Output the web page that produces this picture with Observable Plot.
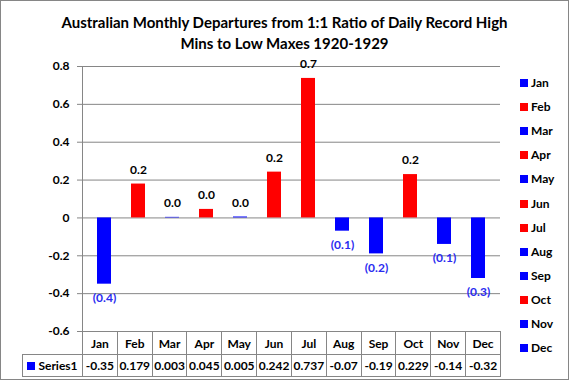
<!DOCTYPE html>
<html><head><meta charset="utf-8">
<script src="https://cdn.jsdelivr.net/npm/d3@7"></script>
<script src="https://cdn.jsdelivr.net/npm/@observablehq/plot@0.6"></script>
<style>
body{margin:0;background:#fff;}
#wrap{position:relative;width:569px;height:380px;overflow:hidden;background:#fff;font-family:Lato,"Liberation Sans",sans-serif;font-weight:bold;color:#000;}
#border{position:absolute;left:0;top:0;width:569px;height:380px;box-sizing:border-box;border:1px solid #868686;pointer-events:none;}
#title{position:absolute;left:0;top:12px;width:569px;text-align:center;font-size:15px;line-height:21px;}
#legend{position:absolute;left:520px;top:0;font-size:12px;}
.li{position:absolute;left:0;white-space:nowrap;height:14px;line-height:14px;}
.sw{display:inline-block;width:8px;height:8px;margin-right:3px;vertical-align:0px;}
#tbl{position:absolute;left:22px;top:331px;border-collapse:collapse;table-layout:fixed;font-size:12px;}
#tbl td{border:1px solid #868686;text-align:center;padding:0;white-space:nowrap;overflow:visible;}
#tbl td.blank{border:none;}
</style></head>
<body>
<div id="wrap">
  <div id="title">Australian Monthly Departures from 1:1 Ratio of Daily Record High<br>Mins to Low Maxes 1920-1929</div>
  <div id="plot" style="position:absolute;left:0;top:0;"></div>
  <div id="legend"></div>
  <table id="tbl"></table>
  <div id="border"></div>
</div>
<script>
const months = ["Jan","Feb","Mar","Apr","May","Jun","Jul","Aug","Sep","Oct","Nov","Dec"];
const values = [-0.35,0.179,0.003,0.045,0.005,0.242,0.737,-0.07,-0.19,0.229,-0.14,-0.32];
const valueLabels = ["-0.35","0.179","0.003","0.045","0.005","0.242","0.737","-0.07","-0.19","0.229","-0.14","-0.32"];
const barColors = ["#0000ff","#ff0000","#0000ff","#ff0000","#0000ff","#ff0000","#ff0000","#0000ff","#0000ff","#ff0000","#0000ff","#0000ff"];
const yTicks = [-0.6,-0.4,-0.2,0,0.2,0.4,0.6,0.8];
const seriesName = "Series1";

const data = months.map((m,i)=>({month:m, value:values[i], color:barColors[i]}));
const fmtTick = d => Math.abs(d) < 1e-9 ? "0" : d.toFixed(1);
const round1 = v => (Math.round(Math.abs(v) * 10 + 1e-9) / 10).toFixed(1);
const fmtLabel = d => d < 0 ? "(" + round1(d) + ")" : round1(d);

const W = 569, H = 380, mL = 82, mR = 69, mT = 66, mB = 49;
const gridColor = "#868686";

const chart = Plot.plot({
  width: W, height: H,
  marginLeft: mL, marginRight: mR, marginTop: mT, marginBottom: mB,
  style: {fontFamily: "Lato, 'Liberation Sans', sans-serif", fontWeight: "bold", fontSize: "12px", color: "#000", background: "transparent"},
  x: {domain: months, paddingInner: 0.6, paddingOuter: 0.3, axis: null},
  y: {domain: [-0.6, 0.8], axis: null},
  marks: [
    Plot.ruleY(yTicks, {stroke: gridColor, strokeWidth: 1}),
    Plot.axisY({ticks: yTicks, tickFormat: fmtTick, tickSize: 5, tickPadding: 8, stroke: gridColor, fill: "#000", fontSize: 12, fontWeight: "bold", label: null}),
    (index, scales, values, dims) => {
      const l = document.createElementNS("http://www.w3.org/2000/svg","line");
      l.setAttribute("x1", dims.marginLeft + 0.5); l.setAttribute("x2", dims.marginLeft + 0.5);
      l.setAttribute("y1", dims.marginTop); l.setAttribute("y2", dims.height - dims.marginBottom);
      l.setAttribute("stroke", gridColor);
      return l;
    },
    Plot.barY(data, {x: "month", y: "value", fill: "color"}),
    Plot.text(data.filter(d=>d.value>=0), {x: "month", y: "value", text: d=>fmtLabel(d.value), dy: -14, fill: "#000", fontSize: 12, fontWeight: "bold"}),
    Plot.text(data.filter(d=>d.value<0), {x: "month", y: "value", text: d=>fmtLabel(d.value), dy: 14, fill: "#2b2bf0", fontSize: 12, fontWeight: "bold"})
  ]
});
document.getElementById("plot").appendChild(chart);

// legend
const leg = document.getElementById("legend");
months.forEach((m,i)=>{
  const d = document.createElement("div");
  d.className = "li";
  d.style.top = (76 + i*24.1) + "px";
  d.innerHTML = `<span class="sw" style="background:${barColors[i]}"></span>${m}`;
  leg.appendChild(d);
});

// data table
const tbl = document.getElementById("tbl");
const colW = (W - mL - mR) / months.length;
const cg = document.createElement("colgroup");
cg.innerHTML = `<col style="width:${mL - 22}px">` + months.map(()=>`<col style="width:${colW}px">`).join("");
tbl.appendChild(cg);
tbl.style.width = (mL - 22 + colW*months.length) + "px";
const r1 = document.createElement("tr"); r1.style.height = "23px";
r1.innerHTML = `<td class="blank"></td>` + months.map(m=>`<td>${m}</td>`).join("");
const r2 = document.createElement("tr"); r2.style.height = "22px";
r2.innerHTML = `<td><span class="sw" style="background:#0000ff"></span>${seriesName}</td>` + valueLabels.map(v=>`<td>${v}</td>`).join("");
tbl.appendChild(r1); tbl.appendChild(r2);
</script>
</body></html>
